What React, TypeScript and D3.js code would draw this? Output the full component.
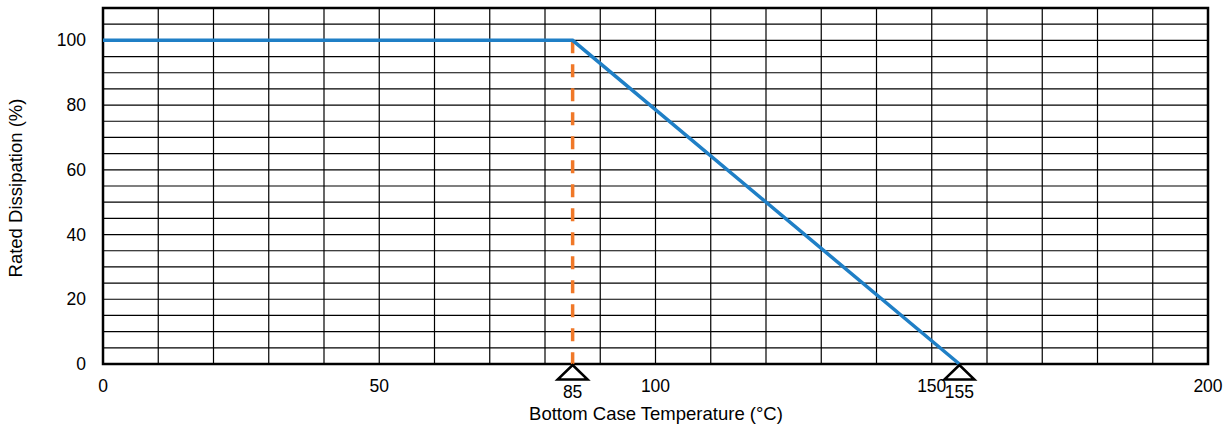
import React from "react";
import * as d3 from "d3";

const curveTemps = [0, 85, 155];
const curveDissipation = [100, 100, 0];
const xTicks = [0, 50, 100, 150, 200];
const yTicks = [0, 20, 40, 60, 80, 100];
const markerTemps = [85, 155];
const kneeTemp = 85;

const W = 1228;
const H = 427;
const M = { left: 103, right: 20, top: 8, bottom: 63 };

export default function App() {
  const x = d3.scaleLinear().domain([0, 200]).range([M.left, W - M.right]);
  const y = d3.scaleLinear().domain([0, 110]).range([H - M.bottom, M.top]);
  const vGrid = d3.range(10, 200, 10);
  const hGrid = d3.range(5, 110, 5);
  const line = d3
    .line<number>()
    .x((_, i) => x(curveTemps[i]))
    .y((d) => y(d));
  const font = "'Liberation Sans', Arial, sans-serif";
  const y0 = y(0);
  return (
    <svg
      width={W}
      height={H}
      style={{ position: "absolute", left: 0, top: 0, background: "#fff" }}
      fontFamily={font}
    >
      <rect width={W} height={H} fill="#fff" />
      {vGrid.map((v) => (
        <line key={"v" + v} x1={x(v)} x2={x(v)} y1={y(110)} y2={y0} stroke="#000" strokeWidth={1.2} />
      ))}
      {hGrid.map((v) => (
        <line key={"h" + v} x1={x(0)} x2={x(200)} y1={y(v)} y2={y(v)} stroke="#000" strokeWidth={1.2} />
      ))}
      <rect
        x={x(0)}
        y={y(110)}
        width={x(200) - x(0)}
        height={y0 - y(110)}
        fill="none"
        stroke="#000"
        strokeWidth={2.5}
      />
      <line
        x1={x(kneeTemp)}
        x2={x(kneeTemp)}
        y1={y(100)}
        y2={y0}
        stroke="#f07828"
        strokeWidth={3.5}
        strokeDasharray="13 11"
      />
      <path d={line(curveDissipation) || ""} fill="none" stroke="#1f7fc6" strokeWidth={3.5} />
      {markerTemps.map((t) => (
        <g key={"m" + t}>
          <path
            d={`M${x(t)},${y0 + 1}L${x(t) + 15},${y0 + 15.5}L${x(t) - 15},${y0 + 15.5}Z`}
            fill="#fff"
            stroke="#000"
            strokeWidth={2.5}
          />
          <text x={x(t)} y={398} fontSize={17.5} textAnchor="middle" fill="#000">
            {t}
          </text>
        </g>
      ))}
      {yTicks.map((v) => (
        <text key={"yt" + v} x={86} y={y(v)} dy="0.35em" fontSize={17.5} textAnchor="end" fill="#000">
          {v}
        </text>
      ))}
      {xTicks.map((v) => (
        <text key={"xt" + v} x={x(v)} y={392} fontSize={17.5} textAnchor="middle" fill="#000">
          {v}
        </text>
      ))}
      <text x={656} y={419.5} fontSize={18.5} textAnchor="middle" fill="#000">
        Bottom Case Temperature (°C)
      </text>
      <text
        transform={`translate(22,188) rotate(-90)`}
        fontSize={18.5}
        textAnchor="middle"
        fill="#000"
      >
        Rated Dissipation (%)
      </text>
    </svg>
  );
}
